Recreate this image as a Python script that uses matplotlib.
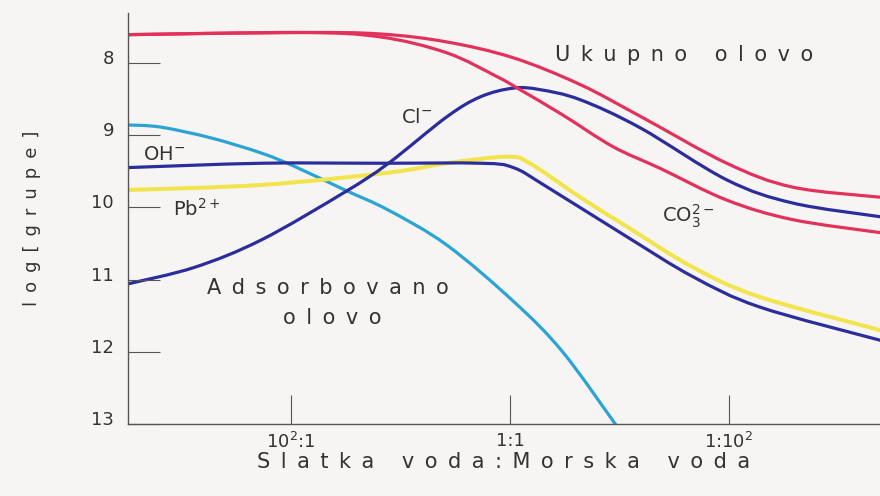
import numpy as np
import matplotlib
matplotlib.use("Agg")
import matplotlib.pyplot as plt
import matplotlib.transforms as mtransforms
from matplotlib.path import Path
from matplotlib.patches import PathPatch

# x is log10 of (morska : slatka) ratio, 10^2:1 -> -2, 1:1 -> 0, 1:10^2 -> 2
x_ukupno1 = [-3.49, -1.92, -1.19, -0.58, 0.03, 0.64, 1.19, 1.98, 2.58, 3.38]
y_ukupno1 = [7.61, 7.58, 7.60, 7.71, 7.93, 8.30, 8.74, 9.39, 9.72, 9.86]

x_ukupno2 = [-3.49, -1.92, -1.19, -0.58, -0.12, 0.09, 0.48, 0.94, 1.37, 1.98, 2.58, 3.38]
y_ukupno2 = [7.61, 7.58, 7.64, 7.86, 8.19, 8.37, 8.72, 9.16, 9.46, 9.90, 10.17, 10.35]

x_cl = [-3.49, -2.88, -2.27, -1.51, -1.11, -0.58, -0.27, 0.03, 0.27, 0.64, 1.19, 1.98, 2.58, 3.38]
y_cl = [11.06, 10.83, 10.45, 9.79, 9.39, 8.75, 8.47, 8.35, 8.37, 8.51, 8.90, 9.62, 9.94, 10.13]

x_oh = [-3.49, -2.27, -1.19, -0.27, 0.03, 0.34, 1.07, 1.67, 2.28, 3.38]
y_oh = [9.45, 9.39, 9.39, 9.39, 9.45, 9.72, 10.41, 10.96, 11.38, 11.84]

x_pb = [-3.49, -2.27, -1.11, -0.58, -0.03, 0.18, 0.64, 1.07, 1.67, 2.28, 3.38]
y_pb = [9.76, 9.69, 9.52, 9.39, 9.30, 9.39, 9.86, 10.27, 10.83, 11.24, 11.70]

x_ads = [-3.49, -3.19, -2.73, -2.27, -1.96, -1.51, -1.11, -0.58, 0.03, 0.48, 0.98]
y_ads = [8.86, 8.89, 9.04, 9.25, 9.44, 9.76, 10.04, 10.52, 11.30, 12.00, 13.04]

y_ticks = [8, 9, 10, 11, 12, 13]
x_ticks = [-2, 0, 2]
x_ticklabels = [r'$\mathregular{10^2}$:1', '1:1', r'1:$\mathregular{10^2}$']

red = '#e2325c'
navy = '#2c2d9c'
yellow = '#f1e44c'
cyan = '#2ba4d4'
bg = '#f7f5f4'
ink = '#333333'


def spaced(s):
    return '\u2002'.join(s)


def smooth_path(xs, ys):
    # Catmull-Rom through the read points, drawn as cubic Bezier segments
    p = np.column_stack([xs, ys]).astype(float)
    p = np.vstack([p[0], p, p[-1]])
    verts = [p[1]]
    codes = [Path.MOVETO]
    for i in range(1, len(p) - 2):
        c1 = p[i] + (p[i + 1] - p[i - 1]) / 6.0
        c2 = p[i + 1] - (p[i + 2] - p[i]) / 6.0
        verts += [c1, c2, p[i + 1]]
        codes += [Path.CURVE4] * 3
    return Path(verts, codes)


fig = plt.figure(figsize=(8.8, 4.96), dpi=100, facecolor=bg)
ax = fig.add_axes([128 / 880, 72 / 496, 1 - 128 / 880, 411 / 496])
ax.set_facecolor(bg)

lw = 2.3
series = [(x_ads, y_ads, cyan, lw), (x_pb, y_pb, yellow, lw + 0.6),
          (x_oh, y_oh, navy, lw), (x_cl, y_cl, navy, lw),
          (x_ukupno2, y_ukupno2, red, lw), (x_ukupno1, y_ukupno1, red, lw)]
for xs, ys, c, w in series:
    ax.add_patch(PathPatch(smooth_path(xs, ys), fill=False, edgecolor=c,
                           lw=w, joinstyle='round', capstyle='round'))

ax.set_xlim(-3.49, 3.38)
ax.set_ylim(13, 7.31)

ax.spines['top'].set_visible(False)
ax.spines['right'].set_visible(False)
for s in ['left', 'bottom']:
    ax.spines[s].set_color('#555555')
    ax.spines[s].set_linewidth(1.0)

ax.set_yticks(y_ticks)
ax.set_yticklabels([str(v) for v in y_ticks])
ax.set_xticks(x_ticks)
ax.set_xticklabels(x_ticklabels)
ax.tick_params(axis='y', direction='in', length=23, width=0.8, color='#555555',
               labelsize=13, labelcolor=ink, pad=10)
ax.tick_params(axis='x', direction='in', length=21, width=0.8, color='#555555',
               labelsize=13, labelcolor=ink, pad=6)

# labels sit a bit above their tick marks in the original
off = mtransforms.ScaledTranslation(0, 0.06, fig.dpi_scale_trans)
for lab in ax.get_yticklabels():
    lab.set_transform(lab.get_transform() + off)

ax.set_xlabel(spaced('Slatka voda:Morska voda'), fontsize=15, color=ink, labelpad=0)
ax.set_ylabel(spaced('log[grupe]'), fontsize=13, color=ink, labelpad=36)

tk = dict(color=ink, va='center', ha='left')
ax.text(0.41, 7.89, spaced('Ukupno olovo'), fontsize=15, **tk)
ax.text(-1.0, 8.76, r'Cl$^{-}$', fontsize=14, **tk)
ax.text(-3.35, 9.27, r'OH$^{-}$', fontsize=14, **tk)
ax.text(-3.08, 10.02, r'Pb$^{2+}$', fontsize=14, **tk)
ax.text(1.39, 10.13, r'CO$_3^{2-}$', fontsize=14, **tk)
ax.text(-2.77, 11.12, spaced('Adsorbovano'), fontsize=15, **tk)
ax.text(-2.07, 11.53, spaced('olovo'), fontsize=15, **tk)

fig.savefig('out.png', dpi=100, facecolor=bg)
